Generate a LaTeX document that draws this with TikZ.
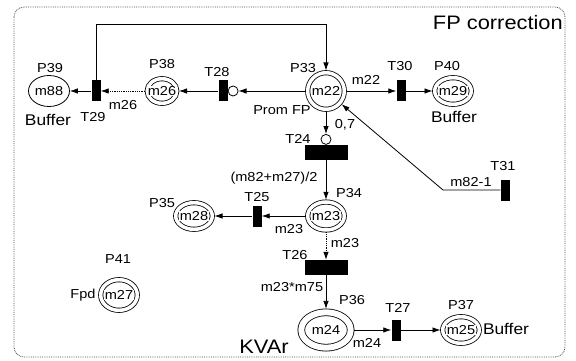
\documentclass[tikz,border=0pt]{standalone}
\usepackage{fontspec}
\setmainfont{Liberation Sans}[FakeStretch=1.12]
\usetikzlibrary{positioning,arrows.meta,shapes.geometric}

\begin{document}
\begin{tikzpicture}[x=1pt,y=-1pt,
			every node/.style={
				inner sep=1pt,
				font=\fontsize{13}{15}\selectfont},
			plc/.style={draw,ellipse,line width=0.8pt,inner sep=0pt,
				minimum width=41pt,minimum height=31pt},
			dplc/.style={plc,double,double distance=3.5pt,outer sep=2.2pt,
				minimum width=36.6pt,minimum height=26.6pt},
			tok/.style={fill=white,inner sep=0.4pt},
			tv/.style={fill=black,inner sep=0pt,minimum width=9pt,minimum height=21pt},
			th/.style={fill=black,inner sep=0pt,minimum width=43pt,minimum height=15pt},
			inh/.style={draw,circle,fill=white,line width=0.8pt,inner sep=0pt,minimum size=10pt},
			flow/.style={-{Latex[length=8pt,width=5.5pt]},line width=0.8pt},
			big/.style={font=\fontsize{15.5}{17}\selectfont},
			huge/.style={font=\fontsize{19.5}{22}\selectfont}]
			
			\useasboundingbox (0,0) rectangle (576,361);
			\draw[densely dotted,rounded corners=10pt,black!70,line width=0.8pt] (14,7) rectangle (565,357);
			
			% places
			\node[plc] (p39) at (49,91) {m88};
			\node[dplc,minimum width=29.6pt,minimum height=24.6pt] (p38) at (162,91) {};
			\node[dplc,minimum width=36.6pt,minimum height=36.6pt] (p33) at (326,91) {};
			\node[dplc] (p40) at (453,91) {};
			\node[dplc] (p35) at (194,216) {};
			\node[dplc,minimum height=28pt] (p34) at (326,216) {};
			\node[dplc,double distance=6pt,outer sep=3.4pt,
				minimum width=49.4pt,minimum height=35.4pt] (p36) at (326,330) {};
			\node[dplc] (p37) at (461,330) {};
			\node[dplc,minimum height=30.6pt] (p41) at (119,295) {};
			
			\node[tok] at (p38) {m26};
			\node[tok] at (p33) {m22};
			\node[tok] at (p40) {m29};
			\node[tok] at (p35) {m28};
			\node[tok] at (p34) {m23};
			\node[tok] at (p36) {m24};
			\node[tok] at (p37) {m25};
			\node[tok] at (p41) {m27};
			
			% transitions
			\node[tv] (t29) at (96,91) {};
			\node[tv] (t28) at (223,91) {};
			\node[inh] (i28) [right=0pt of t28] {};
			\node[tv] (t30) at (401,91) {};
			\node[th] (t24) at (326,152.5) {};
			\node[inh] (i24) [above=0pt of t24] {};
			\node[tv] (t25) at (257,216) {};
			\node[th] (t26) at (326,267.5) {};
			\node[tv] (t31) at (505,190) {};
			\node[tv] (t27) at (396,330) {};
			
			\coordinate (loop) at (326,24);
			\coordinate (bend) at (443,190);
			
			% arcs
			\draw[flow] (p33)--(i28);
			\draw[flow] (t28)--(p38);
			\draw[flow,densely dotted] (p38)--(t29);
			\draw[flow] (t29)--(p39);
			\draw[flow] (t29) |- (loop)--(p33);
			\draw[flow] (p33)--(t30);
			\draw[flow] (t30)--(p40);
			\draw[flow] (p33)--(i24);
			\draw[flow] (t24)--(p34);
			\draw[flow] (p34)--(t25);
			\draw[flow] (t25)--(p35);
			\draw[flow,densely dotted] (p34)--(t26);
			\draw[flow] (t26)--(p36);
			\draw[flow] (p36)--(t27);
			\draw[flow] (t27)--(p37);
			\draw[flow] (t31)--(bend)--(p33);
			
			% names
			\node at (50,68) {P39};
			\node at (162,64) {P38};
			\node at (303,68) {P33};
			\node at (447,66) {P40};
			\node at (162,203) {P35};
			\node at (349,193) {P34};
			\node at (352,300) {P36};
			\node at (461,305) {P37};
			\node at (118,259) {P41};
			\node at (93,117) {T29};
			\node at (217,72) {T28};
			\node at (400,66) {T30};
			\node at (298,139) {T24};
			\node at (257,197) {T25};
			\node at (295,255) {T26};
			\node at (503,166) {T31};
			\node at (398,308) {T27};
			
			% weights and notes
			\node at (366,80) {m22};
			\node at (123,105) {m26};
			\node at (282,110) {Prom FP};
			\node at (345,125) {0,7};
			\node at (274,178) {(m82+m27)/2};
			\node at (289,229) {m23};
			\node at (345,243) {m23};
			\node at (292,287) {m23*m75};
			\node at (367,343) {m24};
			\node at (471,182) {m82-1};
			\node at (83,295) {Fpd};
			
			\node[big] at (48,120) {Buffer};
			\node[big] at (454,117) {Buffer};
			\node[big] at (506,329) {Buffer};
			\node[huge,anchor=east] at (564,23) {FP correction};
			\node[huge] at (264,347) {KVAr};
			
		\end{tikzpicture}
\end{document}
